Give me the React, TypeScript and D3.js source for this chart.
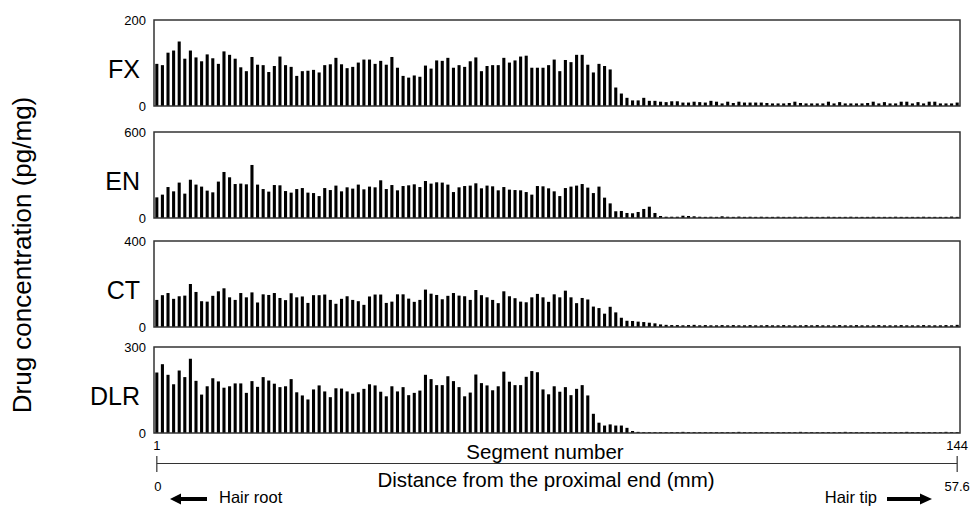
import React from "react";
import * as d3 from "d3";

const segments: number[] = Array.from({ length: 144 }, (_, i) => i + 1);

const fxValues: number[] = [
  98,95,124,129,150,110,129,113,104,120,
  111,98,127,119,110,90,81,114,96,95,
  79,93,115,95,91,70,81,82,84,78,
  95,97,112,97,88,91,101,108,108,98,
  105,96,114,89,70,66,71,68,94,87,
  106,105,112,89,95,91,104,113,81,93,
  95,95,112,101,106,115,117,89,89,89,
  95,108,81,107,102,119,119,96,78,98,
  93,85,43,29,19,13,13,19,12,12,
  10,9,11,11,8,8,10,9,8,12,
  10,6,10,7,10,8,8,8,8,7,
  6,6,6,7,10,7,6,6,6,6,
  10,6,9,6,6,6,6,7,10,6,
  9,6,6,10,10,6,9,6,10,10,
  6,6,6,8,
];

const enValues: number[] = [
  144,163,216,186,247,170,267,233,219,191,
  179,254,321,284,237,240,235,370,233,202,
  184,230,228,188,177,202,209,177,174,153,
  209,195,226,186,214,205,233,200,219,214,
  263,202,230,193,223,228,235,216,258,240,
  249,247,233,181,214,223,226,242,207,226,
  221,193,216,198,195,193,181,163,223,221,
  207,186,153,209,219,226,237,212,174,219,
  142,102,47,49,35,33,42,63,79,35,
  14,9,9,9,16,14,12,9,8,9,
  8,12,9,8,10,8,9,8,9,8,
  8,9,8,8,9,8,9,8,8,8,
  9,8,8,8,9,8,8,8,9,8,
  8,8,9,8,8,8,8,9,8,8,
  8,8,10,8,
];

const ctValues: number[] = [
  126,148,158,131,143,146,200,163,120,118,
  145,166,180,138,126,158,138,161,114,152,
  149,158,135,125,157,138,142,112,148,148,
  151,126,108,131,143,126,120,103,142,151,
  151,112,118,152,152,132,117,126,174,155,
  149,129,145,158,146,143,126,172,148,138,
  126,111,166,143,134,118,115,138,154,138,
  117,152,138,169,138,111,135,128,95,88,
  62,94,68,43,29,28,25,23,20,17,
  12,10,9,9,8,9,10,8,9,8,
  8,9,8,9,8,8,9,8,8,9,
  8,8,9,8,8,8,9,8,9,8,
  8,8,9,8,8,9,8,8,8,9,
  8,8,8,9,8,8,8,9,8,8,
  8,9,8,10,
];

const dlrValues: number[] = [
  211,240,203,170,218,195,259,182,134,163,
  191,180,158,163,173,173,140,181,161,195,
  183,172,160,163,188,142,131,117,152,166,
  145,125,156,155,145,137,142,154,170,166,
  144,128,163,145,160,132,140,148,203,188,
  167,167,198,181,160,128,141,204,174,166,
  149,163,214,179,167,167,196,216,212,152,
  135,163,144,160,132,154,167,131,67,36,
  26,30,26,26,18,7,4,3,3,3,
  3,3,3,3,4,3,3,3,3,3,
  3,3,3,3,4,3,3,3,3,3,
  3,3,3,3,3,4,3,3,3,3,
  3,3,3,4,3,3,3,3,3,3,
  3,3,3,3,4,3,3,3,3,3,
  3,4,3,3,
];

const seriesNames: string[] = ["FX", "EN", "CT", "DLR"];
const seriesMax: number[] = [200, 600, 400, 300];
const seriesData: number[][] = [fxValues, enValues, ctValues, dlrValues];

const FONT = "Liberation Sans, Arial, Helvetica, sans-serif";

export default function App() {
  const width = 973;
  const height = 508;
  const left = 154;
  const right = 960;
  const panelTops = [20, 132, 241, 347];
  const panelH = 86;

  const x = d3
    .scaleBand<number>()
    .domain(segments)
    .range([left + 1, right - 1])
    .paddingInner(0.45)
    .paddingOuter(0.05);

  const firstX = (x(1) ?? 0) + x.bandwidth() / 2;
  const lastX = (x(144) ?? 0) + x.bandwidth() / 2;

  return (
    <svg
      width={width}
      height={height}
      style={{ position: "absolute", left: 0, top: 0, background: "#fff" }}
      fontFamily={FONT}
    >
      <text
        transform={`translate(31,255) rotate(-90)`}
        textAnchor="middle"
        fontSize={26}
        fill="#000"
      >
        Drug concentration (pg/mg)
      </text>

      {seriesNames.map((name, si) => {
        const top = panelTops[si];
        const y = d3
          .scaleLinear()
          .domain([0, seriesMax[si]])
          .range([top + panelH, top]);
        const data = seriesData[si];
        return (
          <g key={name}>
            {data.map((v, i) => (
              <rect
                key={i}
                x={x(segments[i])}
                y={y(v)}
                width={x.bandwidth()}
                height={top + panelH - y(v)}
                fill="#000"
              />
            ))}
            <rect
              x={left}
              y={top}
              width={right - left}
              height={panelH}
              fill="none"
              stroke="#333"
              strokeWidth={1.5}
            />
            <text
              x={146}
              y={top}
              dy="0.35em"
              textAnchor="end"
              fontSize={13}
              fill="#000"
            >
              {seriesMax[si]}
            </text>
            <text
              x={146}
              y={top + panelH}
              dy="0.35em"
              textAnchor="end"
              fontSize={13}
              fill="#000"
            >
              0
            </text>
            <text
              x={140}
              y={top + panelH / 2 + 6}
              dy="0.35em"
              textAnchor="end"
              fontSize={25}
              fill="#000"
            >
              {name}
            </text>
          </g>
        );
      })}

      <text x={firstX} y={445} dy="0.35em" textAnchor="middle" fontSize={13}>
        1
      </text>
      <text x={lastX} y={445} dy="0.35em" textAnchor="middle" fontSize={13}>
        144
      </text>
      <text x={545} y={452} dy="0.35em" textAnchor="middle" fontSize={20.5}>
        Segment number
      </text>

      <line x1={firstX} x2={lastX} y1={463.5} y2={463.5} stroke="#333" strokeWidth={1.2} />
      <line x1={firstX} x2={firstX} y1={456} y2={472} stroke="#333" strokeWidth={1.2} />
      <line x1={lastX} x2={lastX} y1={456} y2={472} stroke="#333" strokeWidth={1.2} />

      <text x={firstX + 1} y={486} dy="0.35em" textAnchor="middle" fontSize={13}>
        0
      </text>
      <text x={lastX} y={486} dy="0.35em" textAnchor="middle" fontSize={13}>
        57.6
      </text>
      <text x={546} y={480} dy="0.35em" textAnchor="middle" fontSize={20.5}>
        Distance from the proximal end (mm)
      </text>

      <line x1={180} x2={207} y1={499} y2={499} stroke="#000" strokeWidth={4} />
      <path d="M170,499 L181,493.5 L181,504.5 Z" fill="#000" />
      <text x={219} y={497.5} dy="0.35em" fontSize={16.5}>
        Hair root
      </text>

      <text x={877} y={497.5} dy="0.35em" textAnchor="end" fontSize={16.5}>
        Hair tip
      </text>
      <line x1={887} x2={921} y1={499} y2={499} stroke="#000" strokeWidth={4} />
      <path d="M932,499 L920,493.5 L920,504.5 Z" fill="#000" />
    </svg>
  );
}
